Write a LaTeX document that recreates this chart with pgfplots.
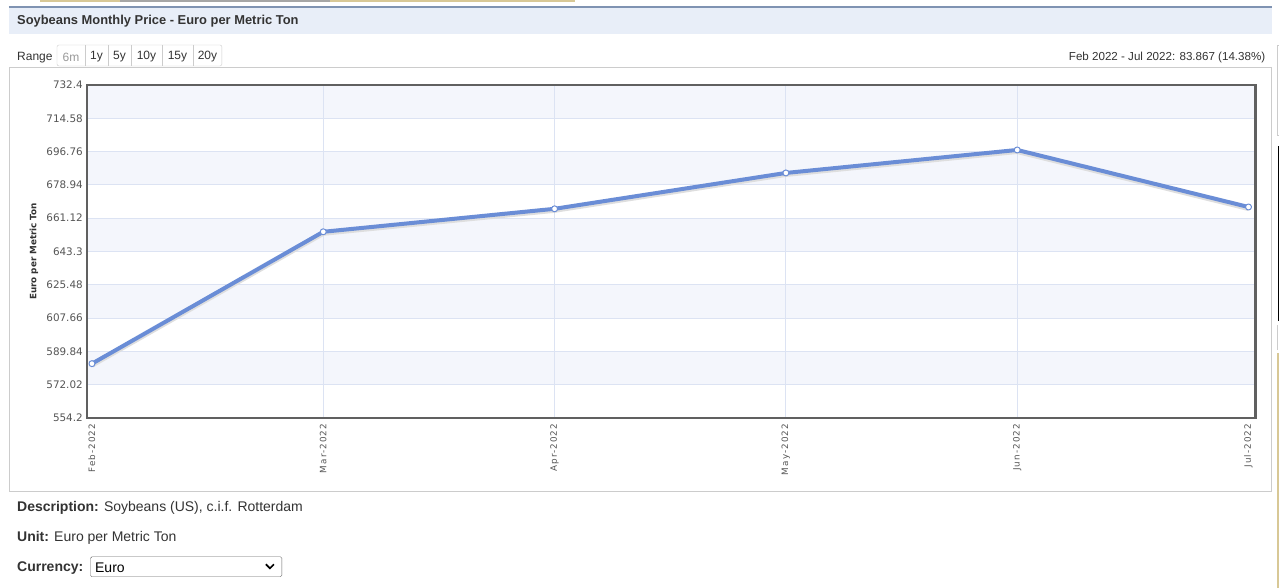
\documentclass[border=0pt]{standalone}
\usepackage{pgfplots}
\pgfplotsset{compat=1.18}
\usepackage{fontspec}
\setmainfont{Liberation Sans}
\newfontfamily\verd{DejaVu Sans}
\newfontfamily\verdls[LetterSpace=12]{DejaVu Sans}
\definecolor{linecol}{RGB}{106,141,214}
\definecolor{bandcol}{RGB}{244,246,252}
\definecolor{gridcol}{RGB}{220,227,243}
\definecolor{titlebg}{RGB}{232,238,248}
\definecolor{topline}{RGB}{127,147,178}
\definecolor{boxcol}{RGB}{204,204,204}
\definecolor{txt}{RGB}{51,51,51}
\definecolor{ticktxt}{RGB}{85,85,85}
\definecolor{framecol}{RGB}{96,96,96}
\definecolor{stripcol}{RGB}{216,200,150}
\begin{document}
\begin{tikzpicture}
\begin{scope}[x=1pt,y=1pt,shift={(-87pt,-170pt)}]
\fill[white] (0,0) rectangle (1279,588);
% top strip (fragment of page above)
\fill[stripcol] (40,585.5) rectangle (575,588);
\fill[black!35] (120,586) rectangle (330,588);
% title bar
\fill[titlebg] (9,554) rectangle (1272,580);
\draw[topline, line width=1.5pt] (9,581) -- (1272,581);
\node[anchor=west, inner sep=0pt, font=\fontsize{12.9}{15}\selectfont\bfseries, text=txt] at (17,566.5) {Soybeans Monthly Price - Euro per Metric Ton};
% range row
\node[anchor=west, inner sep=0pt, font=\fontsize{12}{14}\selectfont, text=txt] at (17,530.5) {Range};
\draw[boxcol, rounded corners=2pt, fill=white] (57,522) rectangle (222,543);
\foreach \xx in {85,108,131,162,193} {\draw[boxcol] (\xx,522) -- (\xx,543);}
\node[inner sep=0pt, font=\fontsize{12}{14}\selectfont, text=black!40] at (71,531) {6m};
\node[inner sep=0pt, font=\fontsize{12}{14}\selectfont, text=txt] at (96.5,531) {1y};
\node[inner sep=0pt, font=\fontsize{12}{14}\selectfont, text=txt] at (119.5,531) {5y};
\node[inner sep=0pt, font=\fontsize{12}{14}\selectfont, text=txt] at (146.5,531) {10y};
\node[inner sep=0pt, font=\fontsize{12}{14}\selectfont, text=txt] at (177.5,531) {15y};
\node[inner sep=0pt, font=\fontsize{12}{14}\selectfont, text=txt] at (207.5,531) {20y};
\node[anchor=east, inner sep=0pt, font=\fontsize{11.6}{14}\selectfont, text=txt] at (1266,530.5) {Feb 2022 - Jul 2022: 83.867 (14.38\%)};
% outer chart box
\draw[boxcol] (9,97) rectangle (1272,521);
% right edge fragments
\draw[boxcol] (1277.5,453) -- (1277.5,543) -- (1279,543);
\draw[boxcol] (1277.5,453) -- (1279,453);
\draw[black, line width=1pt] (1279,267) -- (1278.5,267) -- (1278.5,441) -- (1279,441);
\draw[boxcol] (1277.5,238) -- (1277.5,263);
\fill[stripcol] (1277,0) rectangle (1279,235);
\end{scope}
% axis
\begin{axis}[
  at={(0pt,0pt)}, anchor=south west,
  scale only axis, width=1169pt, height=333pt,
  xmin=-0.0216, xmax=5.0303,
  ymin=554.2, ymax=732.4,
  xtick={0,1,2,3,4,5},
  xticklabels={Feb-2022,Mar-2022,Apr-2022,May-2022,Jun-2022,Jul-2022},
  ytick={554.2,572.02,589.84,607.66,625.48,643.3,661.12,678.94,696.76,714.58,732.4},
  yticklabels={554.2,572.02,589.84,607.66,625.48,643.3,661.12,678.94,696.76,714.58,732.4},
  major tick length=0pt,
  axis line style={framecol, line width=2.2pt},
  yticklabel style={font=\verd\fontsize{10.4}{12}\selectfont, text=ticktxt, inner sep=4pt},
  xticklabel style={font=\verdls\fontsize{8.8}{10}\selectfont, text=ticktxt, rotate=90, anchor=east, inner sep=6pt},
  ylabel={Euro per Metric Ton},
  ylabel style={font=\verd\fontsize{8.8}{10}\selectfont\bfseries, text=txt, at={(axis description cs:-0.0453,0.5)}, anchor=center},
  clip=false,
]
% alternating bands
\fill[bandcol] (rel axis cs:0,0.1) rectangle (rel axis cs:1,0.2);
\fill[bandcol] (rel axis cs:0,0.3) rectangle (rel axis cs:1,0.4);
\fill[bandcol] (rel axis cs:0,0.5) rectangle (rel axis cs:1,0.6);
\fill[bandcol] (rel axis cs:0,0.7) rectangle (rel axis cs:1,0.8);
\fill[bandcol] (rel axis cs:0,0.9) rectangle (rel axis cs:1,1.0);
% grid lines
\draw[gridcol, line width=0.8pt] (rel axis cs:0,0.1) -- (rel axis cs:1,0.1);
\draw[gridcol, line width=0.8pt] (rel axis cs:0,0.2) -- (rel axis cs:1,0.2);
\draw[gridcol, line width=0.8pt] (rel axis cs:0,0.3) -- (rel axis cs:1,0.3);
\draw[gridcol, line width=0.8pt] (rel axis cs:0,0.4) -- (rel axis cs:1,0.4);
\draw[gridcol, line width=0.8pt] (rel axis cs:0,0.5) -- (rel axis cs:1,0.5);
\draw[gridcol, line width=0.8pt] (rel axis cs:0,0.6) -- (rel axis cs:1,0.6);
\draw[gridcol, line width=0.8pt] (rel axis cs:0,0.7) -- (rel axis cs:1,0.7);
\draw[gridcol, line width=0.8pt] (rel axis cs:0,0.8) -- (rel axis cs:1,0.8);
\draw[gridcol, line width=0.8pt] (rel axis cs:0,0.9) -- (rel axis cs:1,0.9);
\draw[gridcol, line width=0.8pt] (axis cs:1,554.2) -- (axis cs:1,732.4);
\draw[gridcol, line width=0.8pt] (axis cs:2,554.2) -- (axis cs:2,732.4);
\draw[gridcol, line width=0.8pt] (axis cs:3,554.2) -- (axis cs:3,732.4);
\draw[gridcol, line width=0.8pt] (axis cs:4,554.2) -- (axis cs:4,732.4);
\addplot[black!13, line width=5pt, yshift=-1.5pt, no marks, line join=round] coordinates {
(0,583.2) (1,653.8) (2,666.1) (3,685.3) (4,697.6) (5,667.07)
};
\addplot[linecol, line width=4pt, line join=round, mark=*, mark size=3pt,
  mark options={fill=white, draw=linecol, line width=1pt}] coordinates {
(0,583.2) (1,653.8) (2,666.1) (3,685.3) (4,697.6) (5,667.07)
};
\draw[framecol, line width=2.2pt] (rel axis cs:0,0) rectangle (rel axis cs:1,1);
\end{axis}
\begin{scope}[x=1pt,y=1pt,shift={(-87pt,-170pt)}]
% description area
\node[anchor=west, inner sep=0pt, font=\fontsize{14}{16}\selectfont, text=txt] at (17,80) {\textbf{Description:} Soybeans (US), c.i.f. Rotterdam};
\node[anchor=west, inner sep=0pt, font=\fontsize{14}{16}\selectfont, text=txt] at (17,50) {\textbf{Unit:} Euro per Metric Ton};
\node[anchor=west, inner sep=0pt, font=\fontsize{14}{16}\selectfont, text=txt] at (17,20) {\textbf{Currency:}};
\draw[black!60, rounded corners=1.5pt] (90.5,11) rectangle (282,31);
\node[anchor=west, inner sep=0pt, font=\fontsize{14}{16}\selectfont, text=black] at (95,20.5) {Euro};
\draw[black, line width=1.6pt] (266,23.5) -- (270,19.5) -- (274,23.5);
\end{scope}
\end{tikzpicture}
\end{document}
